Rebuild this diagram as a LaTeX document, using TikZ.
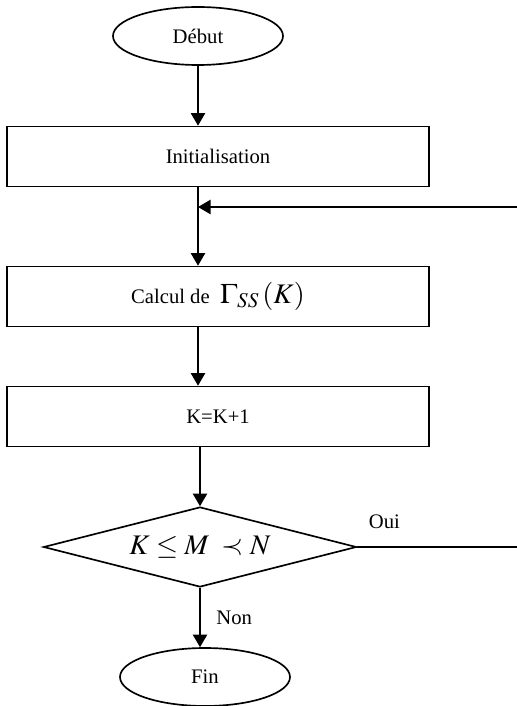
\documentclass[tikz,border=0pt]{standalone}
\usepackage{mathptmx}
\usepackage[no-math]{fontspec}
\setmainfont{Liberation Serif}
\usetikzlibrary{arrows.meta, shapes.geometric}
\tikzset{>={Triangle[length=7.5pt,width=8.5pt]}}
\tikzset{
    every node/.style={font=\fontsize{12.4}{15}\selectfont},
    terminal/.style={draw, ellipse, line width=1pt, inner sep=0pt, minimum width=102pt, minimum height=34.8pt},
    stepbox/.style={draw, rectangle, line width=1pt, inner sep=0pt, minimum width=253.2pt, minimum height=36pt},
    testbox/.style={draw, diamond, aspect=3.9, line width=1pt, inner sep=0pt, minimum width=187.8pt, minimum height=48pt}
}

\begin{document}
\begin{tikzpicture}[x=0.6pt, y=-0.6pt, line width=1pt]
    \useasboundingbox (0,0) rectangle (517,706);
    \node[terminal] (debut) at (198,36) {Début};
    \node[stepbox] (init) at (218,156.5) {Initialisation};
    \node[stepbox] (calc) at (218,296.5) {Calcul de\ \ {\fontsize{17}{20}\selectfont$\Gamma_{SS}\,(K)$}};
    \node[stepbox] (incr) at (218,416.5) {K=K+1};
    \node[testbox] (test) at (200,547) {\fontsize{17}{20}\selectfont$K \leq M \;\prec N$};
    \node[terminal] (fin) at (205,677) {Fin};
    \coordinate (retour) at (517,207);
    \coordinate (sortie) at (517,547);
    \draw[->] (debut.south) -- (debut.south |- init.north);
    \draw[->] (init.south -| debut.south) -- (debut.south |- calc.north);
    \draw[->] (retour) -- (retour -| debut.south);
    \draw[->] (calc.south -| debut.south) -- (debut.south |- incr.north);
    \draw[->] (incr.south -| test.north) -- (test.north);
    \draw (test.east) -- (sortie) node [pos=0.17, above=7pt] {Oui};
    \draw[->] (test.south) -- (test.south |- fin.north) node [midway, right=6pt] {Non};
\end{tikzpicture}
\end{document}
